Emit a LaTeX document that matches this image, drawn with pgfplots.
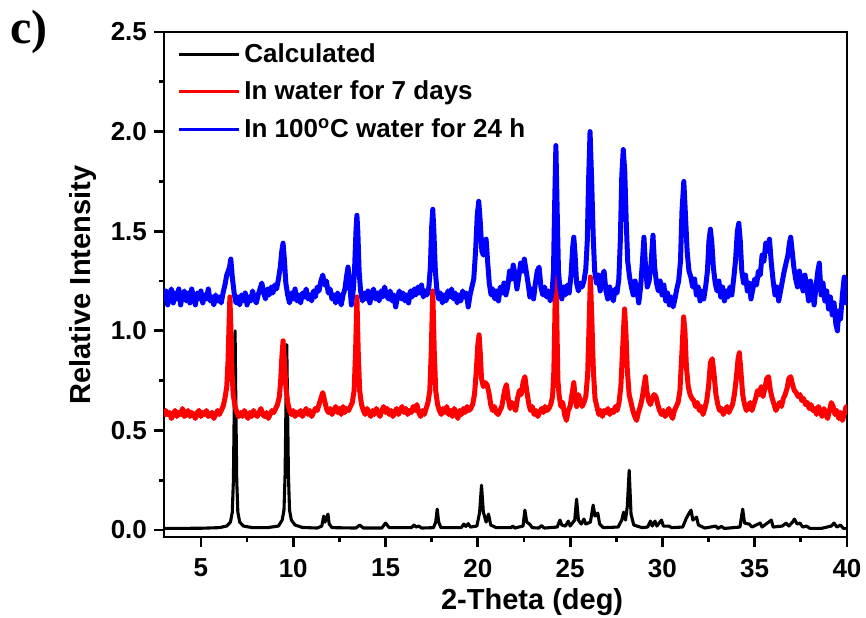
\documentclass[border=0pt]{standalone}
\usepackage{fontspec}
\setmainfont{Liberation Sans}
\newfontfamily\serifb{Liberation Serif}
\usepackage{pgfplots}
\pgfplotsset{compat=1.18}
\pgfplotstableread{
x y
3.0 0.008
5.0 0.009
6.0 0.012
6.4 0.02
6.6 0.04
6.7 0.09
6.76 0.25
6.81 0.65
6.85 1.00
6.89 0.65
6.94 0.25
7.0 0.09
7.1 0.04
7.3 0.02
7.8 0.012
8.6 0.012
9.2 0.02
9.4 0.05
9.5 0.10
9.56 0.28
9.61 0.65
9.65 0.93
9.69 0.65
9.74 0.28
9.8 0.10
9.9 0.05
10.1 0.025
10.5 0.013
11.3 0.01
11.55 0.02
11.65 0.07
11.72 0.04
11.8 0.06
11.88 0.08
11.95 0.03
12.1 0.012
13.4 0.01
13.6 0.025
13.8 0.01
14.8 0.01
15.0 0.035
15.2 0.012
15.6 0.012
16.4 0.012
16.55 0.025
16.65 0.015
16.8 0.02
16.95 0.01
17.6 0.012
17.72 0.04
17.8 0.105
17.88 0.04
18.0 0.012
19.1 0.012
19.25 0.03
19.35 0.018
19.48 0.032
19.6 0.015
19.95 0.02
20.1 0.09
20.2 0.225
20.3 0.09
20.45 0.04
20.58 0.08
20.7 0.025
21.0 0.012
21.8 0.012
21.9 0.02
22.0 0.01
22.45 0.02
22.55 0.10
22.65 0.04
22.8 0.03
22.95 0.012
23.3 0.01
23.45 0.022
23.6 0.01
24.3 0.015
24.45 0.05
24.55 0.025
24.75 0.02
24.9 0.045
25.0 0.02
25.25 0.05
25.35 0.155
25.45 0.05
25.6 0.03
25.75 0.055
25.85 0.03
26.1 0.04
26.25 0.125
26.35 0.07
26.5 0.085
26.6 0.03
26.8 0.012
27.6 0.015
27.8 0.05
27.9 0.09
28.0 0.05
28.1 0.12
28.2 0.30
28.3 0.08
28.45 0.025
28.9 0.012
29.2 0.015
29.35 0.045
29.45 0.02
29.6 0.045
29.7 0.02
29.95 0.05
30.05 0.02
30.35 0.02
30.5 0.012
31.1 0.015
31.3 0.06
31.45 0.085
31.55 0.10
31.65 0.05
31.85 0.065
31.95 0.025
32.3 0.01
32.9 0.02
33.0 0.008
33.2 0.018
33.35 0.008
34.2 0.015
34.35 0.105
34.45 0.035
34.7 0.03
34.85 0.015
35.3 0.035
35.4 0.015
35.9 0.05
36.0 0.015
36.5 0.02
36.7 0.035
36.85 0.02
37.05 0.04
37.15 0.055
37.3 0.03
37.45 0.035
37.6 0.015
37.8 0.02
38.0 0.008
38.6 0.008
39.15 0.02
39.3 0.035
39.45 0.015
39.65 0.025
39.8 0.008
40.0 0.008
}\calc
\pgfplotstableread{
x y
3.0 0.57
3.1 0.60
3.2 0.58
3.3 0.59
3.4 0.56
3.5 0.58
3.6 0.60
3.7 0.57
3.8 0.59
3.9 0.58
4.0 0.61
4.1 0.57
4.2 0.58
4.3 0.60
4.4 0.57
4.5 0.59
4.6 0.58
4.7 0.56
4.8 0.59
4.9 0.60
5.0 0.57
5.1 0.59
5.2 0.58
5.3 0.60
5.4 0.57
5.5 0.58
5.6 0.59
5.7 0.56
5.8 0.58
5.9 0.60
6.0 0.58
6.1 0.60
6.2 0.62
6.3 0.66
6.4 0.72
6.47 0.85
6.52 1.02
6.57 1.17
6.62 1.02
6.68 0.80
6.75 0.68
6.85 0.62
6.95 0.59
7.05 0.57
7.15 0.59
7.25 0.57
7.35 0.60
7.45 0.58
7.55 0.56
7.65 0.59
7.75 0.57
7.85 0.60
7.95 0.58
8.05 0.57
8.15 0.59
8.25 0.61
8.35 0.58
8.45 0.57
8.55 0.59
8.65 0.56
8.75 0.58
8.85 0.60
8.95 0.59
9.05 0.61
9.15 0.63
9.25 0.67
9.32 0.75
9.38 0.86
9.45 0.95
9.52 0.86
9.6 0.72
9.7 0.64
9.8 0.60
9.9 0.58
10.0 0.60
10.1 0.57
10.2 0.59
10.3 0.58
10.4 0.60
10.5 0.57
10.6 0.59
10.7 0.61
10.8 0.58
10.9 0.60
11.0 0.57
11.1 0.59
11.2 0.61
11.3 0.60
11.4 0.63
11.5 0.66
11.6 0.69
11.7 0.65
11.8 0.61
11.9 0.59
12.0 0.61
12.1 0.58
12.2 0.60
12.3 0.62
12.4 0.59
12.5 0.61
12.6 0.58
12.7 0.62
12.8 0.59
12.9 0.61
13.0 0.60
13.1 0.62
13.2 0.64
13.3 0.70
13.38 0.90
13.45 1.17
13.52 0.90
13.6 0.70
13.7 0.63
13.8 0.60
13.9 0.58
14.0 0.61
14.1 0.59
14.2 0.57
14.3 0.60
14.4 0.58
14.5 0.61
14.6 0.59
14.7 0.57
14.8 0.60
14.9 0.62
15.0 0.59
15.1 0.61
15.2 0.58
15.3 0.60
15.4 0.57
15.5 0.59
15.6 0.61
15.7 0.58
15.8 0.60
15.9 0.62
16.0 0.59
16.1 0.61
16.2 0.58
16.3 0.60
16.4 0.59
16.5 0.62
16.6 0.60
16.7 0.63
16.8 0.59
16.9 0.57
17.0 0.60
17.1 0.58
17.2 0.61
17.3 0.64
17.4 0.70
17.48 0.90
17.56 1.20
17.64 0.90
17.72 0.70
17.82 0.63
17.92 0.60
18.02 0.58
18.12 0.61
18.22 0.59
18.32 0.62
18.42 0.58
18.52 0.60
18.62 0.57
18.72 0.61
18.82 0.59
18.92 0.56
19.02 0.60
19.12 0.58
19.22 0.61
19.32 0.59
19.42 0.62
19.52 0.60
19.62 0.61
19.72 0.63
19.82 0.68
19.92 0.80
20.0 0.93
20.07 0.98
20.14 0.88
20.2 0.76
20.3 0.72
20.4 0.74
20.5 0.73
20.6 0.69
20.7 0.63
20.8 0.60
20.9 0.62
21.0 0.59
21.1 0.58
21.2 0.60
21.3 0.62
21.45 0.70
21.55 0.73
21.65 0.66
21.75 0.61
21.85 0.64
21.95 0.62
22.05 0.60
22.15 0.66
22.25 0.70
22.35 0.68
22.45 0.74
22.55 0.77
22.65 0.70
22.75 0.64
22.85 0.60
22.95 0.62
23.05 0.58
23.15 0.60
23.25 0.57
23.35 0.59
23.45 0.61
23.55 0.59
23.65 0.62
23.75 0.60
23.85 0.61
23.95 0.63
24.05 0.67
24.12 0.80
24.18 1.10
24.23 1.50
24.28 1.05
24.34 0.75
24.4 0.68
24.5 0.62
24.6 0.64
24.7 0.58
24.8 0.55
24.9 0.60
25.0 0.62
25.1 0.68
25.2 0.74
25.28 0.66
25.35 0.62
25.45 0.68
25.55 0.65
25.65 0.62
25.75 0.64
25.85 0.67
25.95 0.78
26.02 1.00
26.1 1.27
26.18 1.05
26.26 0.80
26.35 0.66
26.45 0.62
26.55 0.58
26.65 0.60
26.75 0.57
26.85 0.60
26.95 0.59
27.05 0.61
27.15 0.58
27.25 0.60
27.35 0.59
27.45 0.62
27.55 0.60
27.65 0.64
27.75 0.72
27.85 0.92
27.95 1.11
28.03 0.98
28.1 0.80
28.2 0.68
28.3 0.64
28.4 0.60
28.5 0.57
28.6 0.55
28.7 0.59
28.8 0.62
28.9 0.66
29.0 0.72
29.08 0.77
29.15 0.70
29.25 0.65
29.35 0.63
29.45 0.66
29.55 0.68
29.65 0.67
29.75 0.63
29.85 0.60
29.95 0.58
30.05 0.60
30.15 0.57
30.25 0.59
30.35 0.61
30.45 0.58
30.55 0.56
30.65 0.60
30.75 0.62
30.85 0.64
30.95 0.70
31.05 0.88
31.15 1.07
31.22 1.00
31.3 0.82
31.4 0.72
31.5 0.68
31.6 0.66
31.7 0.65
31.8 0.62
31.9 0.64
32.0 0.60
32.1 0.62
32.2 0.58
32.3 0.61
32.4 0.65
32.5 0.72
32.6 0.84
32.7 0.86
32.8 0.78
32.9 0.68
33.0 0.63
33.1 0.60
33.2 0.61
33.3 0.58
33.4 0.60
33.5 0.62
33.6 0.59
33.7 0.61
33.8 0.63
33.9 0.68
34.0 0.76
34.1 0.86
34.17 0.89
34.25 0.80
34.35 0.68
34.45 0.63
34.55 0.60
34.65 0.62
34.75 0.64
34.85 0.60
34.95 0.63
35.05 0.66
35.15 0.70
35.25 0.68
35.35 0.72
35.45 0.67
35.55 0.71
35.65 0.76
35.75 0.77
35.85 0.70
35.95 0.66
36.05 0.63
36.15 0.60
36.25 0.62
36.35 0.64
36.45 0.62
36.55 0.66
36.65 0.68
36.75 0.71
36.85 0.76
36.95 0.77
37.05 0.73
37.15 0.70
37.25 0.69
37.35 0.67
37.45 0.68
37.55 0.65
37.65 0.66
37.75 0.63
37.85 0.64
37.95 0.61
38.05 0.63
38.15 0.60
38.25 0.61
38.35 0.58
38.45 0.62
38.55 0.60
38.65 0.57
38.75 0.61
38.85 0.58
38.95 0.56
39.05 0.60
39.15 0.64
39.25 0.62
39.35 0.58
39.45 0.60
39.55 0.56
39.65 0.59
39.75 0.55
39.85 0.58
39.95 0.62
40.0 0.60
}\water
\pgfplotstableread{
x y
3.0 1.15
3.1 1.20
3.2 1.13
3.3 1.18
3.4 1.21
3.5 1.14
3.6 1.19
3.7 1.16
3.8 1.21
3.9 1.13
4.0 1.18
4.1 1.20
4.2 1.15
4.3 1.19
4.4 1.14
4.5 1.21
4.6 1.17
4.7 1.13
4.8 1.19
4.9 1.16
5.0 1.20
5.1 1.14
5.2 1.18
5.3 1.16
5.4 1.21
5.5 1.15
5.6 1.17
5.7 1.13
5.8 1.18
5.9 1.15
6.0 1.17
6.1 1.14
6.2 1.19
6.3 1.23
6.4 1.28
6.48 1.30
6.55 1.32
6.62 1.36
6.7 1.27
6.8 1.19
6.9 1.14
7.0 1.17
7.1 1.13
7.2 1.18
7.3 1.15
7.4 1.19
7.5 1.13
7.6 1.17
7.7 1.15
7.8 1.20
7.9 1.16
8.0 1.14
8.1 1.18
8.2 1.21
8.3 1.24
8.4 1.19
8.5 1.16
8.6 1.21
8.7 1.18
8.8 1.22
8.9 1.19
9.0 1.23
9.1 1.21
9.2 1.26
9.3 1.32
9.38 1.40
9.45 1.44
9.52 1.36
9.6 1.24
9.7 1.18
9.8 1.14
9.9 1.19
10.0 1.16
10.1 1.21
10.2 1.15
10.3 1.18
10.4 1.14
10.5 1.19
10.6 1.17
10.7 1.21
10.8 1.16
10.9 1.18
11.0 1.15
11.1 1.20
11.2 1.17
11.3 1.22
11.4 1.20
11.5 1.25
11.6 1.28
11.7 1.23
11.8 1.25
11.9 1.19
12.0 1.21
12.1 1.16
12.2 1.18
12.3 1.14
12.4 1.19
12.5 1.17
12.6 1.13
12.7 1.18
12.8 1.21
12.9 1.28
12.97 1.32
13.05 1.25
13.15 1.13
13.25 1.20
13.32 1.30
13.4 1.50
13.45 1.58
13.5 1.50
13.57 1.30
13.65 1.20
13.75 1.15
13.85 1.19
13.95 1.16
14.05 1.20
14.15 1.14
14.25 1.18
14.35 1.21
14.45 1.16
14.55 1.19
14.65 1.15
14.75 1.20
14.85 1.17
14.95 1.22
15.05 1.18
15.15 1.16
15.25 1.20
15.35 1.15
15.45 1.18
15.55 1.12
15.65 1.17
15.75 1.20
15.85 1.16
15.95 1.19
16.05 1.15
16.15 1.18
16.25 1.14
16.35 1.20
16.45 1.17
16.55 1.21
16.65 1.18
16.75 1.22
16.85 1.19
16.95 1.23
17.05 1.17
17.15 1.20
17.25 1.18
17.35 1.22
17.43 1.32
17.5 1.52
17.56 1.61
17.62 1.50
17.7 1.30
17.78 1.21
17.88 1.16
17.98 1.19
18.08 1.14
18.18 1.18
18.28 1.15
18.38 1.20
18.48 1.17
18.58 1.21
18.68 1.16
18.78 1.19
18.88 1.14
18.98 1.18
19.08 1.15
19.18 1.20
19.28 1.17
19.38 1.19
19.48 1.12
19.58 1.18
19.68 1.22
19.78 1.26
19.88 1.40
19.97 1.58
20.05 1.65
20.13 1.55
20.22 1.40
20.3 1.38
20.38 1.44
20.45 1.46
20.53 1.35
20.62 1.24
20.72 1.18
20.82 1.21
20.92 1.16
21.02 1.20
21.12 1.15
21.22 1.22
21.32 1.19
21.42 1.24
21.52 1.18
21.62 1.22
21.72 1.30
21.82 1.26
21.92 1.33
22.02 1.28
22.12 1.21
22.22 1.27
22.32 1.34
22.42 1.30
22.52 1.36
22.62 1.30
22.72 1.24
22.82 1.17
22.92 1.21
23.02 1.16
23.12 1.24
23.22 1.30
23.32 1.32
23.42 1.22
23.52 1.18
23.62 1.22
23.72 1.17
23.82 1.20
23.92 1.15
24.02 1.19
24.1 1.30
24.16 1.62
24.23 1.93
24.3 1.60
24.37 1.30
24.45 1.21
24.55 1.16
24.65 1.22
24.75 1.18
24.85 1.23
24.95 1.19
25.05 1.28
25.14 1.42
25.2 1.47
25.27 1.38
25.35 1.24
25.45 1.20
25.55 1.24
25.65 1.22
25.75 1.25
25.85 1.31
25.93 1.45
26.0 1.75
26.08 2.00
26.16 1.78
26.25 1.48
26.33 1.30
26.43 1.24
26.53 1.28
26.63 1.20
26.73 1.27
26.84 1.30
26.94 1.20
27.04 1.16
27.14 1.22
27.24 1.18
27.34 1.15
27.44 1.21
27.54 1.19
27.64 1.26
27.72 1.45
27.8 1.78
27.88 1.91
27.96 1.80
28.04 1.55
28.12 1.35
28.22 1.27
28.32 1.22
28.42 1.18
28.52 1.25
28.62 1.20
28.72 1.14
28.82 1.22
28.92 1.35
29.0 1.47
29.08 1.33
29.18 1.22
29.28 1.25
29.38 1.33
29.49 1.48
29.58 1.32
29.68 1.24
29.78 1.20
29.88 1.25
29.98 1.18
30.08 1.23
30.18 1.15
30.28 1.19
30.38 1.13
30.48 1.17
30.58 1.12
30.68 1.16
30.78 1.21
30.88 1.25
30.98 1.35
31.06 1.60
31.16 1.75
31.25 1.58
31.34 1.40
31.44 1.30
31.54 1.27
31.64 1.22
31.74 1.26
31.84 1.18
31.94 1.22
32.04 1.15
32.14 1.20
32.24 1.16
32.34 1.22
32.44 1.30
32.52 1.45
32.6 1.51
32.68 1.44
32.76 1.32
32.86 1.24
32.96 1.20
33.06 1.25
33.16 1.17
33.26 1.22
33.36 1.15
33.46 1.20
33.56 1.17
33.66 1.22
33.76 1.18
33.86 1.26
33.96 1.35
34.06 1.50
34.14 1.54
34.22 1.45
34.3 1.30
34.4 1.24
34.5 1.28
34.6 1.20
34.7 1.24
34.8 1.16
34.9 1.21
35.0 1.26
35.1 1.23
35.2 1.30
35.3 1.28
35.4 1.38
35.5 1.35
35.6 1.44
35.7 1.40
35.8 1.46
35.9 1.34
36.0 1.25
36.1 1.18
36.2 1.22
36.3 1.15
36.4 1.20
36.5 1.25
36.6 1.30
36.7 1.34
36.8 1.38
36.88 1.44
36.95 1.47
37.03 1.40
37.12 1.32
37.22 1.26
37.32 1.22
37.42 1.30
37.52 1.25
37.62 1.20
37.72 1.28
37.82 1.22
37.92 1.15
38.02 1.25
38.12 1.20
38.22 1.13
38.32 1.22
38.42 1.30
38.5 1.34
38.6 1.18
38.7 1.24
38.8 1.15
38.9 1.20
39.0 1.11
39.1 1.17
39.2 1.08
39.3 1.14
39.4 1.03
39.48 1.00
39.56 1.10
39.65 1.06
39.75 1.18
39.85 1.27
39.95 1.14
40.0 1.18
}\hot
\begin{document}
\begin{tikzpicture}
\useasboundingbox (-82pt,-40pt) rectangle (351pt,268.5pt);
\begin{axis}[
  at={(0pt,0pt)}, anchor=south west,
  scale only axis, width=341.5pt, height=252.5pt,
  xmin=3, xmax=40, ymin=-0.035, ymax=2.5,
  axis line style={line width=1.4pt},
  every tick/.style={line width=1.4pt, black},
  tick align=outside, tick pos=left,
  major tick length=5pt, minor tick length=2.5pt,
  xtick={5,10,15,20,25,30,35,40},
  minor xtick={7.5,12.5,17.5,22.5,27.5,32.5,37.5},
  ytick={0,0.5,1,1.5,2,2.5},
  minor ytick={0.25,0.75,1.25,1.75,2.25},
  xticklabel style={font=\fontsize{13}{15}\selectfont\bfseries, yshift=-2.5pt, /pgf/number format/assume math mode=true},
  yticklabel style={font=\fontsize{13}{15}\selectfont\bfseries, /pgf/number format/fixed, /pgf/number format/fixed zerofill, /pgf/number format/precision=1, /pgf/number format/assume math mode=true},
  xlabel={2-Theta (deg)},
  ylabel={Relative Intensity},
  xlabel style={font=\fontsize{14.5}{17}\selectfont\bfseries, at={(axis description cs:0.539,-0.128)}, anchor=center},
  ylabel style={font=\fontsize{14.5}{17}\selectfont\bfseries, at={(axis description cs:-0.119,0.499)}, anchor=center},
  legend style={draw=none, fill=none, at={(axis description cs:0,1)}, anchor=north west, xshift=3.5pt, yshift=-1.5pt, font=\fontsize{13}{15}\selectfont\bfseries, row sep=3.8pt},
  legend cell align=left,
  legend image code/.code={\draw[#1, line width=1.5pt] (0pt,0pt) -- (30pt,0pt);},
  clip=true,
]
\addplot[black, line width=1.55pt, line join=round] table[x=x, y=y] {\calc};
\addplot[red, line width=2.5pt, line join=round] table[x=x, y=y] {\water};
\addplot[blue, line width=2.5pt, line join=round] table[x=x, y=y] {\hot};
\legend{Calculated, In water for 7 days, In 100\textsuperscript{o}C water for 24 h}
\end{axis}
\node[anchor=base west, inner sep=0pt, font={\fontsize{24}{28}\selectfont\serifb\bfseries}] at (-77pt,247pt) {c)};
\end{tikzpicture}
\end{document}
